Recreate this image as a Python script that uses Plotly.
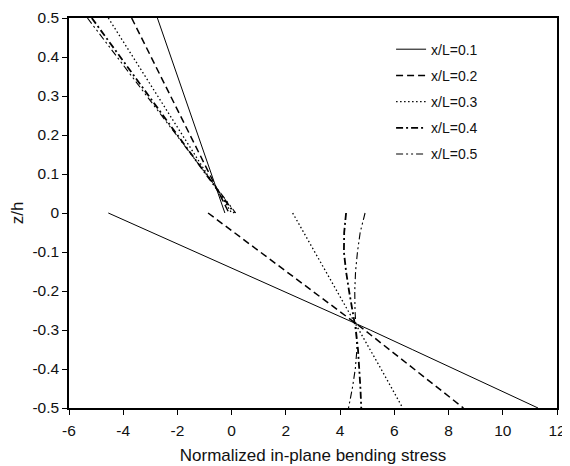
import plotly.graph_objects as go

# ---- data ----
series_names = ["x/L=0.1", "x/L=0.2", "x/L=0.3", "x/L=0.4", "x/L=0.5"]

# upper layer (z/h from 0.5 down to 0)
top_z = [0.5, 0.25, 0.0]
top_x = {
    "x/L=0.1": [-2.74, -1.50, -0.25],
    "x/L=0.2": [-3.69, -1.90, -0.10],
    "x/L=0.3": [-4.55, -2.28, 0.00],
    "x/L=0.4": [-5.16, -2.53, 0.10],
    "x/L=0.5": [-5.32, -2.58, 0.15],
}

# lower layer (z/h from 0 down to -0.5)
bot_z = [0.0, -0.05, -0.1, -0.15, -0.2, -0.25, -0.3, -0.35, -0.4, -0.45, -0.5]
bot_x = {
    "x/L=0.1": [-4.55, -2.94, -1.32, 0.30, 1.91, 3.52, 5.11, 6.66, 8.20, 9.75, 11.30],
    "x/L=0.2": [-0.87, 0.10, 1.06, 2.02, 2.98, 3.94, 4.90, 5.81, 6.72, 7.64, 8.55],
    "x/L=0.3": [2.25, 2.66, 3.07, 3.48, 3.90, 4.31, 4.72, 5.11, 5.51, 5.91, 6.31],
    "x/L=0.4": [4.22, 4.15, 4.14, 4.22, 4.33, 4.45, 4.58, 4.66, 4.71, 4.75, 4.78],
    "x/L=0.5": [4.92, 4.74, 4.64, 4.57, 4.54, 4.55, 4.59, 4.62, 4.56, 4.45, 4.31],
}

x_ticks = [-6, -4, -2, 0, 2, 4, 6, 8, 10, 12]
y_ticks = [0.5, 0.4, 0.3, 0.2, 0.1, 0.0, -0.1, -0.2, -0.3, -0.4, -0.5]
y_tick_labels = ["0.5", "0.4", "0.3", "0.2", "0.1", "0", "-0.1", "-0.2", "-0.3", "-0.4", "-0.5"]

# ---- styles ----
styles = {
    "x/L=0.1": dict(dash="solid", width=1.0),
    "x/L=0.2": dict(dash="7px,4px", width=1.5),
    "x/L=0.3": dict(dash="1.5px,2.5px", width=1.3),
    "x/L=0.4": dict(dash="7px,3px,2px,3px", width=1.8),
    "x/L=0.5": dict(dash="7px,3px,2px,3px,2px,3px", width=1.1),
}

fig = go.Figure()
for i, name in enumerate(series_names):
    xs = top_x[name] + [None] + bot_x[name]
    zs = top_z + [None] + bot_z
    fig.add_trace(go.Scatter(
        x=xs, y=zs, mode="lines", name=name,
        line=dict(color="black", **styles[name]),
        connectgaps=False, legendgroup=f"g{i}",
    ))

font_family = "Liberation Sans, Arial, Helvetica, sans-serif"
tick_font = dict(family=font_family, size=15.5, color="#111")
fig.update_layout(
    width=562, height=458,
    margin=dict(l=61, r=13, t=10, b=58, autoexpand=False),
    paper_bgcolor="white", plot_bgcolor="white",
    font=dict(family=font_family, size=14, color="#111"),
    showlegend=True,
    legend=dict(
        x=0.660, y=0.960, xanchor="left", yanchor="top",
        bgcolor="rgba(0,0,0,0)", borderwidth=0,
        tracegroupgap=5, traceorder="grouped",
        font=dict(size=14, family=font_family, color="#111"),
    ),
    xaxis=dict(
        range=[-6, 12], tickvals=x_ticks, ticktext=[str(v) for v in x_ticks],
        ticks="outside", ticklen=5, tickcolor="black", tickfont=tick_font,
        ticklabelstandoff=3,
        showline=True, linecolor="black", linewidth=1.5, mirror=True,
        showgrid=False, zeroline=False, automargin=False,
        title=dict(text="Normalized in-plane bending stress", standoff=11),
    ),
    yaxis=dict(
        range=[-0.5, 0.5], tickvals=y_ticks, ticktext=y_tick_labels,
        ticks="outside", ticklen=5, tickcolor="black", tickfont=tick_font,
        showline=True, linecolor="black", linewidth=1.5, mirror=True,
        showgrid=False, zeroline=False, automargin=False,
        title=dict(text="z/h", standoff=13),
    ),
)

fig.write_html("out.html")
